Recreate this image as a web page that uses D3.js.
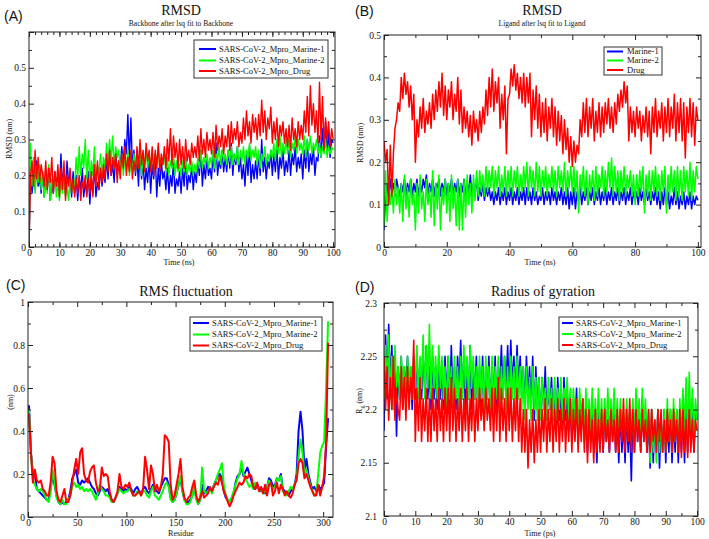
<!DOCTYPE html>
<html><head><meta charset="utf-8">
<script src="https://cdn.jsdelivr.net/npm/d3@7"></script>
<style>body{margin:0;background:#fff}svg{display:block}</style>
</head><body>
<svg id="c" width="709" height="539"></svg>
<script>
// ---------------- DATA ----------------
const seriesColors = ["#0000ff", "#00ff00", "#ff0000"];
const legendLong = ["SARS-CoV-2_Mpro_Marine-1", "SARS-CoV-2_Mpro_Marine-2", "SARS-CoV-2_Mpro_Drug"];
const legendShort = ["Marine-1", "Marine-2", "Drug"];

// Panel A: backbone RMSD (nm), every 0.5 ns from 0 to 100 ns
const aMarine1 = [
0,.22,.15,.2,.16,.24,.17,.19,.15,.21,
.14,.2,.16,.22,.13,.18,.15,.21,.17,.2,
.16,.26,.17,.22,.15,.24,.18,.2,.14,.21,
.15,.2,.13,.19,.16,.22,.14,.18,.15,.21,
.12,.19,.15,.23,.14,.18,.16,.22,.17,.21,
.18,.25,.19,.27,.2,.23,.18,.26,.21,.24,
.22,.28,.23,.3,.26,.37,.24,.36,.22,.27,
.2,.25,.17,.28,.19,.24,.16,.22,.18,.25,
.15,.23,.19,.26,.14,.22,.17,.24,.19,.21,
.16,.22,.15,.2,.17,.24,.15,.19,.17,.21,
.15,.22,.17,.25,.16,.2,.18,.23,.16,.21,
.18,.24,.2,.27,.17,.23,.19,.25,.2,.22,
.19,.26,.21,.29,.2,.24,.22,.27,.21,.25,
.21,.27,.22,.29,.2,.26,.23,.28,.21,.25,
.19,.23,.17,.26,.2,.28,.18,.23,.19,.24,
.19,.26,.2,.3,.21,.25,.19,.24,.22,.27,
.2,.26,.21,.28,.19,.25,.22,.27,.2,.24,
.21,.27,.2,.26,.23,.28,.21,.25,.22,.26,
.19,.27,.22,.3,.21,.26,.23,.28,.2,.25,
.24,.31,.25,.33,.27,.35,.26,.32,.25,.3,.29];
const aMarine2 = [
0,.29,.17,.25,.15,.22,.18,.23,.16,.2,
.14,.21,.15,.23,.13,.19,.16,.2,.14,.18,
.13,.18,.15,.2,.14,.17,.13,.19,.15,.18,
.17,.25,.19,.28,.2,.26,.22,.3,.19,.27,
.18,.24,.2,.28,.19,.23,.21,.26,.2,.25,
.22,.29,.23,.3,.24,.31,.22,.28,.25,.27,
.21,.26,.2,.25,.22,.27,.2,.24,.22,.26,
.21,.27,.22,.28,.2,.25,.23,.27,.22,.26,
.22,.27,.21,.26,.23,.28,.22,.25,.23,.26,
.21,.25,.2,.24,.22,.26,.2,.24,.21,.23,
.2,.24,.21,.25,.2,.23,.21,.24,.2,.23,
.21,.25,.22,.27,.22,.25,.23,.26,.22,.25,
.23,.27,.22,.26,.24,.28,.23,.27,.24,.26,
.23,.27,.24,.28,.23,.26,.24,.28,.23,.27,
.24,.28,.23,.27,.25,.29,.24,.27,.25,.28,
.23,.27,.22,.26,.24,.28,.23,.26,.24,.27,
.25,.29,.24,.3,.26,.31,.25,.29,.26,.3,
.26,.3,.25,.29,.27,.31,.26,.3,.27,.29,
.26,.31,.25,.3,.27,.31,.26,.29,.27,.3,
.26,.29,.25,.28,.26,.3,.25,.28,.26,.28,.27];
const aDrug = [
0,.2,.24,.17,.27,.19,.25,.18,.23,.2,
.17,.24,.16,.22,.18,.25,.15,.21,.17,.23,
.14,.22,.16,.24,.13,.2,.17,.22,.15,.19,
.14,.19,.15,.2,.13,.18,.16,.2,.14,.19,
.15,.21,.14,.23,.17,.24,.16,.22,.18,.23,
.19,.26,.21,.27,.2,.25,.22,.26,.18,.24,
.19,.26,.22,.28,.2,.25,.21,.27,.19,.24,
.21,.28,.22,.3,.23,.27,.21,.29,.24,.27,
.21,.28,.2,.27,.22,.29,.21,.26,.23,.28,
.22,.3,.24,.33,.23,.31,.25,.29,.22,.3,
.23,.28,.22,.3,.24,.27,.23,.29,.25,.28,
.25,.31,.24,.33,.26,.3,.25,.32,.27,.3,
.26,.32,.25,.34,.27,.31,.28,.33,.26,.31,
.28,.34,.27,.35,.29,.33,.3,.35,.28,.32,
.29,.36,.3,.38,.31,.35,.29,.37,.32,.36,
.3,.37,.31,.41,.32,.38,.3,.36,.33,.39,
.29,.35,.3,.36,.28,.34,.31,.35,.29,.33,
.28,.34,.27,.36,.3,.33,.28,.35,.3,.34,
.3,.38,.32,.42,.31,.45,.34,.4,.32,.38,
.29,.46,.3,.42,.27,.36,.3,.35,.28,.33,.3];

// Panel B: ligand RMSD (nm), every 0.5 ns
const bMarine1 = [
.04,.12,.15,.11,.16,.13,.15,.12,.16,.14,
.12,.15,.13,.16,.12,.15,.13,.16,.12,.15,
.13,.16,.12,.15,.13,.16,.14,.17,.12,.15,
.13,.16,.12,.15,.14,.16,.12,.15,.13,.16,
.12,.15,.13,.16,.12,.15,.13,.16,.12,.15,
.13,.16,.12,.15,.13,.17,.12,.15,.13,.16,
.11,.14,.12,.15,.11,.14,.12,.14,.11,.13,
.1,.13,.11,.14,.1,.13,.11,.14,.1,.13,
.11,.14,.1,.13,.11,.14,.1,.13,.11,.14,
.1,.14,.11,.13,.1,.14,.11,.13,.1,.12,
.11,.14,.1,.13,.11,.13,.1,.14,.11,.13,
.1,.13,.11,.14,.1,.13,.1,.14,.09,.13,
.1,.14,.09,.13,.11,.14,.1,.13,.11,.14,
.1,.13,.11,.14,.1,.13,.11,.14,.1,.13,
.11,.14,.1,.13,.11,.14,.1,.13,.11,.14,
.1,.13,.11,.14,.1,.13,.11,.14,.1,.13,
.11,.13,.1,.14,.11,.13,.1,.14,.11,.13,
.1,.13,.11,.14,.1,.13,.09,.13,.1,.14,
.1,.13,.09,.12,.1,.14,.1,.13,.09,.12,
.1,.13,.09,.12,.1,.13,.09,.12,.1,.12,.11];
const bMarine2 = [
.05,.18,.06,.15,.1,.14,.08,.16,.1,.14,
.08,.15,.06,.17,.09,.14,.07,.16,.1,.13,
.04,.15,.08,.17,.09,.13,.06,.16,.1,.14,
.07,.18,.05,.15,.09,.17,.04,.14,.1,.16,
.08,.15,.06,.17,.09,.14,.05,.16,.04,.15,
.04,.16,.07,.17,.1,.15,.08,.17,.11,.18,
.12,.18,.13,.17,.12,.19,.13,.18,.14,.19,
.12,.18,.14,.19,.12,.17,.13,.19,.12,.18,
.13,.19,.12,.18,.14,.19,.12,.17,.13,.19,
.14,.2,.12,.19,.14,.18,.12,.2,.13,.19,
.12,.18,.14,.19,.12,.17,.14,.19,.13,.18,
.12,.19,.14,.18,.13,.2,.12,.18,.14,.19,
.13,.19,.12,.18,.08,.17,.13,.19,.12,.18,
.1,.17,.13,.18,.11,.19,.12,.17,.14,.19,
.12,.18,.13,.2,.14,.21,.12,.19,.13,.18,
.11,.18,.13,.19,.12,.17,.14,.18,.12,.17,
.1,.17,.12,.18,.13,.19,.08,.17,.12,.18,
.11,.18,.13,.19,.12,.17,.11,.18,.13,.19,
.08,.17,.12,.19,.13,.18,.11,.19,.12,.18,
.11,.19,.13,.18,.12,.2,.11,.18,.13,.19,.16];
const bDrug = [
.25,.2,.23,.1,.24,.12,.22,.28,.3,.34,
.32,.4,.35,.41,.36,.39,.33,.38,.3,.36,
.2,.3,.26,.33,.28,.35,.27,.32,.29,.34,
.28,.36,.3,.37,.32,.39,.33,.41,.31,.38,
.3,.37,.33,.39,.3,.36,.32,.4,.29,.37,
.27,.33,.28,.32,.26,.31,.24,.32,.27,.3,
.25,.32,.27,.33,.29,.37,.31,.4,.33,.42,
.32,.39,.34,.4,.28,.36,.3,.38,.22,.35,
.36,.42,.38,.43,.37,.41,.35,.4,.34,.41,
.33,.4,.34,.41,.26,.37,.3,.38,.28,.36,
.26,.34,.27,.35,.25,.33,.28,.35,.26,.33,
.24,.32,.25,.31,.22,.3,.23,.28,.2,.26,
.19,.25,.2,.24,.22,.3,.26,.34,.27,.35,
.26,.33,.28,.35,.25,.32,.27,.34,.26,.33,
.27,.34,.29,.35,.28,.33,.27,.34,.29,.36,
.32,.37,.33,.39,.34,.38,.25,.33,.27,.32,
.26,.33,.28,.32,.25,.31,.27,.33,.26,.32,
.22,.33,.27,.35,.26,.32,.28,.34,.25,.33,
.27,.35,.26,.33,.28,.36,.25,.34,.27,.35,
.25,.34,.21,.33,.27,.35,.26,.34,.24,.33,.3];

// Panel C: RMSF (nm) for residues 1,3,5,...,305
const cMarine1 = [
.52,.3,.2,.2,.13,.12,.11,.1,.09,.08,
.08,.13,.2,.15,.1,.07,.06,.07,.06,.07,
.08,.12,.18,.2,.22,.16,.15,.17,.16,.17,
.18,.16,.14,.13,.11,.1,.12,.14,.13,.12,
.13,.1,.08,.07,.09,.11,.14,.13,.12,.13,
.12,.14,.13,.11,.13,.14,.12,.11,.13,.14,
.12,.11,.13,.15,.13,.12,.11,.14,.16,.18,
.18,.15,.09,.07,.08,.11,.15,.18,.12,.08,
.07,.07,.08,.1,.14,.09,.06,.08,.15,.11,
.12,.14,.13,.12,.15,.17,.19,.2,.18,.12,
.09,.08,.07,.09,.11,.16,.19,.2,.23,.19,
.21,.23,.2,.17,.14,.13,.15,.13,.12,.13,
.11,.14,.18,.17,.14,.15,.18,.17,.2,.13,
.12,.11,.1,.12,.13,.15,.2,.4,.49,.4,
.22,.27,.2,.16,.13,.14,.12,.15,.13,.14,
.16,.33,.46];
const cMarine2 = [
.5,.3,.17,.15,.13,.12,.13,.12,.1,.08,
.07,.12,.22,.16,.09,.07,.06,.08,.06,.06,
.08,.1,.14,.16,.14,.15,.13,.14,.12,.13,
.12,.13,.12,.1,.08,.11,.15,.13,.12,.1,
.1,.09,.07,.07,.09,.11,.13,.12,.11,.12,
.12,.13,.12,.1,.1,.12,.11,.1,.12,.12,
.1,.09,.12,.14,.1,.09,.08,.1,.12,.15,
.16,.14,.08,.07,.08,.11,.15,.19,.12,.08,
.06,.06,.07,.1,.14,.08,.06,.08,.23,.12,
.11,.12,.13,.11,.15,.17,.2,.22,.25,.15,
.1,.08,.07,.09,.12,.15,.18,.2,.26,.2,
.18,.16,.14,.15,.13,.16,.14,.12,.13,.11,
.12,.14,.17,.15,.13,.14,.18,.17,.19,.12,
.11,.1,.12,.14,.13,.15,.18,.28,.36,.3,
.2,.22,.18,.15,.12,.1,.11,.2,.3,.33,
.35,.6,.91];
const cDrug = [
.48,.3,.16,.22,.17,.16,.17,.13,.12,.1,
.1,.16,.28,.25,.12,.08,.07,.1,.13,.07,
.07,.1,.16,.22,.27,.2,.3,.32,.2,.17,
.16,.21,.23,.24,.16,.12,.13,.23,.19,.2,
.19,.12,.08,.07,.09,.12,.2,.14,.13,.15,
.14,.16,.12,.1,.1,.11,.12,.1,.13,.28,
.22,.13,.24,.2,.12,.15,.12,.14,.2,.38,
.37,.35,.15,.08,.1,.15,.2,.27,.14,.09,
.07,.09,.1,.14,.17,.1,.07,.09,.12,.09,
.1,.11,.14,.12,.14,.16,.15,.19,.16,.12,
.1,.07,.05,.07,.1,.12,.14,.16,.15,.16,
.19,.18,.2,.19,.14,.13,.16,.12,.14,.11,
.15,.1,.15,.16,.1,.12,.16,.11,.15,.13,
.1,.12,.1,.09,.11,.15,.17,.25,.27,.25,
.18,.2,.17,.14,.12,.1,.1,.15,.1,.14,
.19,.35,.81];

// Panel D: radius of gyration (nm), every 0.5 units of the time axis
const dMarine1 = [
2.18,2.27,2.21,2.28,2.22,2.26,2.2,2.25,2.175,2.24,
2.21,2.25,2.2,2.24,2.22,2.25,2.21,2.24,2.2,2.25,
2.21,2.25,2.22,2.24,2.21,2.25,2.22,2.26,2.21,2.24,
2.2,2.25,2.21,2.24,2.2,2.25,2.21,2.24,2.2,2.25,
2.21,2.25,2.2,2.26,2.21,2.24,2.2,2.25,2.22,2.265,
2.21,2.25,2.2,2.24,2.21,2.26,2.2,2.24,2.21,2.25,
2.19,2.24,2.2,2.25,2.19,2.24,2.21,2.25,2.2,2.24,
2.21,2.25,2.2,2.24,2.22,2.26,2.21,2.25,2.22,2.26,
2.21,2.265,2.22,2.25,2.21,2.26,2.22,2.25,2.21,2.24,
2.2,2.25,2.21,2.24,2.2,2.25,2.19,2.24,2.2,2.23,
2.19,2.23,2.2,2.24,2.19,2.22,2.2,2.23,2.19,2.22,
2.18,2.23,2.19,2.22,2.18,2.23,2.19,2.22,2.18,2.21,
2.17,2.21,2.18,2.22,2.17,2.2,2.18,2.21,2.17,2.2,
2.16,2.2,2.17,2.21,2.16,2.19,2.15,2.2,2.17,2.19,
2.16,2.2,2.17,2.19,2.16,2.2,2.17,2.21,2.16,2.19,
2.15,2.2,2.16,2.19,2.15,2.2,2.16,2.19,2.133,2.2,
2.16,2.21,2.17,2.2,2.16,2.21,2.17,2.2,2.16,2.19,
2.145,2.2,2.15,2.19,2.16,2.2,2.145,2.19,2.16,2.2,
2.15,2.19,2.16,2.2,2.15,2.19,2.16,2.2,2.15,2.19,
2.16,2.2,2.15,2.21,2.16,2.2,2.17,2.21,2.16,2.2,2.19];
const dMarine2 = [
2.21,2.26,2.22,2.27,2.21,2.25,2.2,2.26,2.22,2.24,
2.21,2.25,2.22,2.24,2.21,2.25,2.22,2.24,2.21,2.25,
2.22,2.26,2.21,2.25,2.22,2.27,2.21,2.26,2.22,2.28,
2.21,2.26,2.22,2.25,2.21,2.26,2.22,2.25,2.21,2.24,
2.2,2.25,2.21,2.24,2.2,2.25,2.21,2.24,2.2,2.25,
2.21,2.26,2.22,2.25,2.21,2.26,2.22,2.25,2.21,2.24,
2.2,2.25,2.21,2.24,2.2,2.25,2.21,2.24,2.2,2.25,
2.2,2.24,2.21,2.25,2.2,2.24,2.21,2.25,2.2,2.24,
2.2,2.25,2.21,2.24,2.2,2.25,2.21,2.24,2.2,2.24,
2.19,2.24,2.2,2.23,2.19,2.24,2.2,2.23,2.19,2.23,
2.19,2.23,2.2,2.22,2.19,2.23,2.2,2.22,2.19,2.23,
2.19,2.22,2.2,2.23,2.19,2.22,2.2,2.23,2.19,2.22,
2.18,2.22,2.19,2.21,2.18,2.22,2.19,2.21,2.18,2.22,
2.17,2.21,2.18,2.22,2.17,2.21,2.18,2.22,2.17,2.21,
2.17,2.21,2.18,2.22,2.17,2.21,2.18,2.22,2.17,2.21,
2.17,2.21,2.18,2.2,2.17,2.21,2.18,2.2,2.17,2.21,
2.17,2.22,2.18,2.21,2.17,2.22,2.18,2.21,2.17,2.2,
2.15,2.2,2.16,2.19,2.15,2.2,2.16,2.19,2.16,2.2,
2.16,2.21,2.17,2.2,2.16,2.21,2.17,2.2,2.16,2.21,
2.17,2.22,2.18,2.23,2.17,2.235,2.18,2.22,2.17,2.21,2.19];
const dDrug = [
2.25,2.2,2.24,2.19,2.23,2.2,2.25,2.19,2.22,2.2,
2.19,2.24,2.2,2.23,2.19,2.24,2.2,2.23,2.21,2.265,
2.17,2.22,2.18,2.23,2.17,2.21,2.18,2.22,2.17,2.21,
2.17,2.22,2.18,2.21,2.17,2.22,2.18,2.21,2.17,2.22,
2.18,2.22,2.17,2.23,2.18,2.22,2.17,2.21,2.18,2.22,
2.17,2.21,2.18,2.22,2.17,2.21,2.18,2.22,2.17,2.21,
2.18,2.22,2.19,2.21,2.18,2.22,2.19,2.21,2.18,2.22,
2.17,2.22,2.18,2.23,2.17,2.22,2.18,2.21,2.17,2.22,
2.18,2.22,2.17,2.21,2.18,2.22,2.17,2.21,2.16,2.2,
2.16,2.2,2.145,2.19,2.16,2.2,2.15,2.19,2.16,2.2,
2.16,2.2,2.17,2.21,2.16,2.2,2.17,2.21,2.16,2.2,
2.17,2.21,2.16,2.2,2.17,2.21,2.16,2.2,2.17,2.21,
2.16,2.2,2.17,2.21,2.16,2.2,2.17,2.21,2.16,2.2,
2.15,2.2,2.16,2.19,2.15,2.2,2.16,2.19,2.16,2.2,
2.16,2.2,2.17,2.19,2.16,2.2,2.17,2.19,2.16,2.2,
2.16,2.2,2.17,2.21,2.16,2.2,2.17,2.21,2.16,2.2,
2.16,2.2,2.17,2.19,2.16,2.2,2.17,2.19,2.16,2.2,
2.16,2.2,2.17,2.19,2.16,2.2,2.17,2.2,2.16,2.19,
2.16,2.2,2.17,2.19,2.16,2.2,2.17,2.19,2.16,2.2,
2.155,2.2,2.16,2.19,2.155,2.2,2.16,2.19,2.16,2.19,2.18];

// Tick values
const aXTicks = [0,10,20,30,40,50,60,70,80,90,100];
const aYTicks = [0,0.1,0.2,0.3,0.4,0.5,0.6];
const bXTicks = [0,20,40,60,80,100];
const bYTicks = [0,0.1,0.2,0.3,0.4,0.5];
const cXTicks = [0,50,100,150,200,250,300];
const cYTicks = [0,0.2,0.4,0.6,0.8,1];
const dXTicks = [0,10,20,30,40,50,60,70,80,90,100];
const dYTicks = [2.1,2.15,2.2,2.25,2.3];

// ---------------- DRAWING ----------------
const svg = d3.select("#c");
const SERIF = "'Liberation Serif','Times New Roman',Tinos,serif";
const SANS = "'Liberation Sans',Arial,sans-serif";
const fmt = d => String(+d.toFixed(3));

let clipId = 0;
function panel(o) {
  const g = svg.append("g");
  const x = d3.scaleLinear().domain(o.xd).range([o.l, o.r]);
  const y = d3.scaleLinear().domain(o.yd).range([o.b, o.t]);
  const id = "clip" + (clipId++);
  g.append("clipPath").attr("id", id).append("rect")
    .attr("x", o.l).attr("y", o.t).attr("width", o.r - o.l).attr("height", o.b - o.t);

  const plot = g.append("g").attr("clip-path", `url(#${id})`);
  o.series.forEach((arr, k) => {
    const line = d3.line().x((d, i) => x(o.xAt(i, arr.length))).y(d => y(d));
    plot.append("path").datum(arr)
      .attr("d", line)
      .attr("fill", "none")
      .attr("stroke", seriesColors[k])
      .attr("stroke-width", o.lw)
      .attr("stroke-linejoin", "round");
  });

  const axes = g.append("g");
  const mk = (gen, scale, vals, size, fmtFn, pad, tr) => {
    const a = axes.append("g").attr("transform", tr)
      .call(gen(scale).tickValues(vals).tickSize(size).tickPadding(pad).tickFormat(fmtFn));
    a.attr("font-family", null).attr("font-size", null);
    a.select(".domain").remove();
    a.selectAll("line").attr("stroke", "#222");
    a.selectAll("text").attr("fill", "#111").style("font-family", SERIF).style("font-size", "9.5px");
    return a;
  };
  const none = () => "";
  mk(d3.axisBottom, x, o.xMin, -3, none, 0, `translate(0,${o.b})`);
  mk(d3.axisTop, x, o.xMin, -3, none, 0, `translate(0,${o.t})`);
  mk(d3.axisLeft, y, o.yMin, -3, none, 0, `translate(${o.l},0)`);
  mk(d3.axisRight, y, o.yMin, -3, none, 0, `translate(${o.r},0)`);
  mk(d3.axisBottom, x, o.xMaj, -5, o.xFmt || fmt, 2, `translate(0,${o.b})`);
  mk(d3.axisTop, x, o.xMaj, -5, none, 0, `translate(0,${o.t})`);
  mk(d3.axisLeft, y, o.yMaj, -5, o.yFmt || fmt, o.yPad, `translate(${o.l},0)`);
  mk(d3.axisRight, y, o.yMaj, -5, none, 0, `translate(${o.r},0)`);

  g.append("rect").attr("x", o.l).attr("y", o.t)
    .attr("width", o.r - o.l).attr("height", o.b - o.t)
    .attr("fill", "none").attr("stroke", "#222").attr("stroke-width", 1);

  const txt = (x0, y0, s, fam, size, anchor) => g.append("text").attr("x", x0).attr("y", y0)
    .attr("text-anchor", anchor).style("font-family", fam).style("font-size", size + "px")
    .attr("fill", "#111").text(s);
  txt(o.letter[0], o.letter[1], o.letter[2], SANS, 14, "start");
  txt(o.title[0], o.title[1], o.title[2], SERIF, 14, "middle");
  if (o.sub) txt(o.sub[0], o.sub[1], o.sub[2], SERIF, 7.5, "middle");
  txt(o.xlab[0], o.xlab[1], o.xlab[2], SERIF, 8, "middle");
  const yl = g.append("text").attr("transform", `translate(${o.ylab[0]},${o.ylab[1]}) rotate(-90)`)
    .attr("text-anchor", "middle").style("font-family", SERIF).style("font-size", "8px").attr("fill", "#111");
  if (o.ylab[3]) {
    yl.append("tspan").text("R");
    yl.append("tspan").style("font-size", "6px").attr("dy", 2).text("g");
    yl.append("tspan").attr("dy", -2).text(" (nm)");
  } else yl.text(o.ylab[2]);

  const L = o.legend;
  const lg = g.append("g");
  lg.append("rect").attr("x", L.x).attr("y", L.y).attr("width", L.w).attr("height", L.h)
    .attr("fill", "#fff").attr("stroke", "#333").attr("stroke-width", 1);
  L.labels.forEach((t, k) => {
    const yy = L.rows[k];
    lg.append("line").attr("x1", L.lx1).attr("x2", L.lx2).attr("y1", yy).attr("y2", yy)
      .attr("stroke", seriesColors[k]).attr("stroke-width", 2);
    lg.append("text").attr("x", L.tx).attr("y", yy).attr("dy", "0.33em")
      .style("font-family", SERIF).style("font-size", "8.5px").attr("fill", "#111").text(t);
  });
}

const tAt = (i, n) => 100 * i / (n - 1);
const resAt = (i) => 1 + 2 * i;

panel({
  l: 29, r: 335, t: 32, b: 247, xd: [0, 100.6], yd: [0, 0.6],
  series: [aMarine1, aMarine2, aDrug], xAt: tAt, lw: 1.4,
  xMaj: aXTicks, xMin: d3.range(0, 101, 2), yMaj: aYTicks, yMin: [0.05,0.15,0.25,0.35,0.45,0.55],
  yFmt: d => d > 0.55 ? "" : fmt(d), yPad: 3,
  letter: [4, 21, "(A)"], title: [181, 15, "RMSD"], sub: [181, 25.5, "Backbone after lsq fit to Backbone"],
  xlab: [179, 265, "Time (ns)"], ylab: [12, 139, "RMSD (nm)"],
  legend: { x: 194, y: 40, w: 134, h: 38, rows: [49, 60.5, 71], lx1: 199, lx2: 216, tx: 219, labels: legendLong }
});
panel({
  l: 384, r: 701, t: 35, b: 247, xd: [0, 101], yd: [0, 0.5],
  series: [bMarine1, bMarine2, bDrug], xAt: tAt, lw: 1.5,
  xMaj: bXTicks, xMin: [10,30,50,70,90], yMaj: bYTicks, yMin: [0.05,0.15,0.25,0.35,0.45], yPad: 3,
  letter: [355, 16, "(B)"], title: [542, 15, "RMSD"], sub: [542, 25.5, "Ligand after lsq fit to Ligand"],
  xlab: [540, 265, "Time (ns)"], ylab: [363, 143, "RMSD (nm)"],
  legend: { x: 604, y: 47, w: 58, h: 28, rows: [51.5, 60.5, 70], lx1: 607, lx2: 623, tx: 627, labels: legendShort }
});
panel({
  l: 28, r: 333, t: 302, b: 517, xd: [0, 310], yd: [0, 1],
  series: [cMarine1, cMarine2, cDrug], xAt: resAt, lw: 2,
  xMaj: cXTicks, xMin: [25,75,125,175,225,275], yMaj: cYTicks, yMin: [0.1,0.3,0.5,0.7,0.9], yPad: 3,
  letter: [6, 290, "(C)"], title: [186, 296, "RMS fluctuation"], sub: null,
  xlab: [181, 536, "Residue"], ylab: [13, 402, "(nm)"],
  legend: { x: 190, y: 317, w: 132, h: 34, rows: [323, 334.5, 345.5], lx1: 193, lx2: 209, tx: 212, labels: legendLong }
});
panel({
  l: 384, r: 698, t: 303, b: 516, xd: [0, 100.3], yd: [2.1, 2.3],
  series: [dMarine1, dMarine2, dDrug], xAt: tAt, lw: 1.6,
  xMaj: dXTicks, xMin: d3.range(5, 100, 10), yMaj: dYTicks, yMin: [2.125,2.175,2.225,2.275], yPad: 7,
  letter: [355, 292, "(D)"], title: [543, 296, "Radius of gyration"], sub: null,
  xlab: [540, 536, "Time (ps)"], ylab: [362, 401, "Rg (nm)", true],
  legend: { x: 559, y: 317, w: 129, h: 34, rows: [323, 334, 345], lx1: 562, lx2: 573, tx: 576, labels: legendLong }
});
</script>
</body></html>
